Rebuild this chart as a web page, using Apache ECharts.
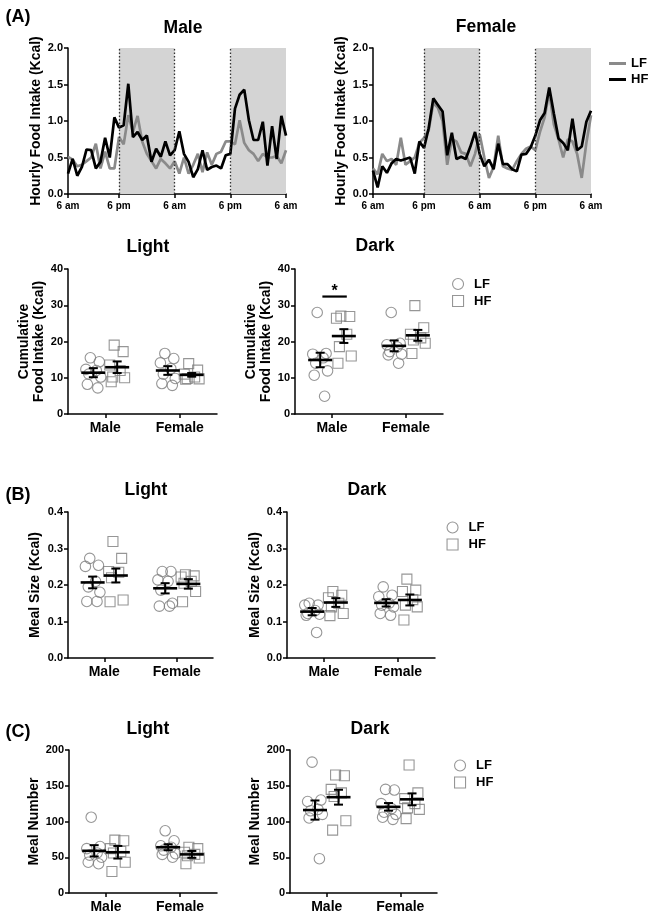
<!DOCTYPE html>
<html><head><meta charset="utf-8">
<script src="https://cdn.jsdelivr.net/npm/echarts@6/dist/echarts.min.js"></script>
<style>html,body{margin:0;padding:0;background:#fff}#c{width:649px;height:914px}</style>
</head><body><div id="c"></div>
<script>
// ---------- DATA ----------
const timeTickHours = [1, 12, 24, 36, 48];
const timeTickLabels = ['6 am', '6 pm', '6 am', '6 pm', '6 am'];
const darkPeriods = [[12, 24], [36, 48]];
const lightDarkBoundaries = [12, 24, 36];

const maleLF = [0.51,0.47,0.38,0.40,0.45,0.50,0.69,0.35,0.58,0.35,0.35,0.78,0.68,1.08,0.85,1.07,0.72,0.55,0.45,0.35,0.48,0.42,0.35,0.45,0.28,0.50,0.28,0.40,0.55,0.30,0.57,0.40,0.55,0.58,0.72,0.72,0.68,1.01,0.70,0.60,0.55,0.45,0.55,0.50,0.50,0.52,0.42,0.60];
const maleHF = [0.28,0.48,0.25,0.37,0.61,0.60,0.35,0.44,0.77,0.50,1.05,0.91,0.94,1.51,0.78,0.85,0.74,0.80,0.44,0.62,0.51,0.72,0.53,0.60,0.86,0.55,0.44,0.23,0.34,0.60,0.33,0.37,0.39,0.35,0.53,0.55,1.17,1.36,1.43,1.01,0.74,0.74,0.99,0.39,0.93,0.48,1.07,0.80];
const femaleLF = [0.35,0.27,0.55,0.45,0.48,0.40,0.77,0.40,0.45,0.50,0.70,0.77,0.87,1.25,1.18,1.00,0.40,0.75,0.72,0.57,0.55,0.38,0.55,0.82,0.50,0.22,0.37,0.80,0.38,0.35,0.33,0.45,0.55,0.62,0.65,0.60,0.85,1.05,1.40,0.95,0.75,0.50,0.75,0.72,0.55,0.22,0.70,1.08];
const femaleHF = [0.32,0.09,0.38,0.29,0.42,0.48,0.46,0.48,0.50,0.28,0.72,0.63,0.90,1.31,1.22,1.13,0.53,0.84,0.48,0.51,0.48,0.65,0.85,0.55,0.38,0.47,0.34,0.69,0.41,0.41,0.34,0.31,0.54,0.55,0.64,0.80,1.01,1.11,1.46,1.10,0.76,0.70,0.60,1.03,0.60,0.65,0.99,1.14];

const groups = ['Male', 'Female'];

// Cumulative food intake (Kcal)
const cumLightLFMale = [15.5, 14.4, 12.3, 12.0, 11.0, 10.2, 8.2, 7.2];
const cumLightHFMale = [19.0, 17.2, 13.5, 12.0, 10.2, 10.0, 8.9];
const cumLightLFFemale = [16.7, 15.3, 14.1, 12.5, 11.0, 9.8, 8.4, 7.9];
const cumLightHFFemale = [13.9, 12.1, 11.0, 10.2, 9.8, 9.7, 9.6];
const cumLightMean = [11.4, 12.9, 12.0, 10.8];   // LF-M, HF-M, LF-F, HF-F
const cumLightSem = [1.25, 1.6, 1.2, 0.5];

const cumDarkLFMale = [28.0, 16.7, 16.5, 15.5, 14.0, 11.9, 10.7, 4.9];
const cumDarkHFMale = [27.0, 26.9, 26.4, 22.0, 18.6, 16.0, 14.0];
const cumDarkLFFemale = [28.0, 19.5, 19.1, 18.5, 17.2, 16.5, 16.3, 14.0];
const cumDarkHFFemale = [29.9, 23.8, 22.0, 21.0, 20.4, 19.5, 16.7];
const cumDarkMean = [14.9, 21.5, 18.8, 21.7];
const cumDarkSem = [2.0, 1.9, 1.5, 1.5];
const cumDarkSigLevel = 32.4;

// Meal size (Kcal)
const sizeLightLFMale = [0.273, 0.254, 0.251, 0.21, 0.195, 0.18, 0.155, 0.155];
const sizeLightHFMale = [0.319, 0.273, 0.237, 0.235, 0.22, 0.159, 0.154];
const sizeLightLFFemale = [0.237, 0.237, 0.214, 0.21, 0.186, 0.15, 0.142, 0.142];
const sizeLightHFFemale = [0.228, 0.225, 0.222, 0.21, 0.205, 0.182, 0.154];
const sizeLightMean = [0.207, 0.226, 0.191, 0.203];
const sizeLightSem = [0.016, 0.019, 0.014, 0.013];

const sizeDarkLFMale = [0.15, 0.145, 0.145, 0.13, 0.122, 0.12, 0.117, 0.07];
const sizeDarkHFMale = [0.182, 0.172, 0.165, 0.15, 0.14, 0.122, 0.116];
const sizeDarkLFFemale = [0.195, 0.172, 0.168, 0.15, 0.145, 0.14, 0.122, 0.117];
const sizeDarkHFFemale = [0.216, 0.186, 0.182, 0.16, 0.145, 0.14, 0.104];
const sizeDarkMean = [0.127, 0.152, 0.151, 0.159];
const sizeDarkSem = [0.01, 0.012, 0.01, 0.015];

// Meal number
const numLightLFMale = [106, 65, 62, 56, 53, 50, 43, 41];
const numLightHFMale = [74, 73, 62, 58, 56, 43, 30];
const numLightLFFemale = [87, 73, 66, 64, 60, 55, 54, 50];
const numLightHFFemale = [64, 62, 57, 54, 52, 49, 41];
const numLightMean = [59, 57, 64, 54];
const numLightSem = [7.9, 8.8, 4.2, 4.8];

const numDarkLFMale = [183, 130, 128, 117, 115, 110, 105, 48];
const numDarkHFMale = [165, 164, 145, 140, 135, 101, 88];
const numDarkLFFemale = [145, 144, 125, 118, 113, 110, 106, 103];
const numDarkHFFemale = [179, 140, 132, 125, 119, 117, 104];
const numDarkMean = [116, 134, 120.5, 131];
const numDarkSem = [13.4, 10.4, 5.3, 8.3];

// ---------- STYLE / LAYOUT ----------
const FONT = '"Liberation Sans", Arial, sans-serif';
const GRAY = '#8a8a8a';
const PT = '#7c7c7c';
const jitter = [-0.04, 0.08, -0.1, 0.04, -0.06, 0.1, -0.08, 0.06];
const groupOffset = 0.16;

const grids = [], xAxes = [], yAxes = [], series = [], titles = [], legends = [];

function axisCommonY(gi, min, max, interval, name, nameGap, fmt) {
  return {
    gridIndex: gi, type: 'value', min, max, interval,
    axisLine: {show: true, onZero: false, lineStyle: {color: '#000', width: 1.5}},
    axisTick: {show: true, length: 4, lineStyle: {color: '#000', width: 1.5}},
    axisLabel: {color: '#000', fontFamily: FONT, fontWeight: 'bold', fontSize: 11, margin: 5, formatter: fmt},
    splitLine: {show: false},
    name, nameLocation: 'middle', nameGap,
    nameTextStyle: {color: '#000', fontFamily: FONT, fontWeight: 'bold', fontSize: 14, lineHeight: 15}
  };
}

function timePanel(gi, left, lf, hf, yName) {
  grids.push({left, top: 48, width: 218, height: 146});
  xAxes.push({
    gridIndex: gi, type: 'value', min: 1, max: 48,
    axisLine: {show: true, onZero: false, lineStyle: {color: '#000', width: 1.5}},
    axisTick: {show: true, length: 4, customValues: timeTickHours, lineStyle: {color: '#000', width: 1.5}},
    axisLabel: {customValues: timeTickHours, color: '#000', fontFamily: FONT, fontWeight: 'bold', fontSize: 10, margin: 7,
      formatter: v => timeTickLabels[timeTickHours.indexOf(v)]},
    splitLine: {show: false}
  });
  yAxes.push(axisCommonY(gi, 0, 2, 0.5, yName, 23, v => v.toFixed(1)));
  series.push({
    type: 'line', name: 'LF', xAxisIndex: gi, yAxisIndex: gi, symbol: 'none', z: 3,
    data: lf.map((v, i) => [i + 1, v]),
    lineStyle: {color: GRAY, width: 2.7}, itemStyle: {color: GRAY},
    markArea: {silent: true, itemStyle: {color: '#d4d4d4'},
      data: darkPeriods.map(p => [{xAxis: p[0]}, {xAxis: p[1]}])},
    markLine: {silent: true, symbol: 'none', label: {show: false},
      lineStyle: {type: [1.5, 2], color: '#333', width: 1.3},
      data: lightDarkBoundaries.map(h => ({xAxis: h}))}
  });
  series.push({
    type: 'line', name: 'HF', xAxisIndex: gi, yAxisIndex: gi, symbol: 'none', z: 4,
    data: hf.map((v, i) => [i + 1, v]),
    lineStyle: {color: '#000', width: 2.7}, itemStyle: {color: '#000'}
  });
}

function errBar(params, api) {
  const x = api.value(0), m = api.value(1), s = api.value(2);
  const c = api.coord([x, m]);
  const t = api.coord([x, m + s]);
  const b = api.coord([x, m - s]);
  const st = {stroke: '#000', lineWidth: 2};
  return {type: 'group', children: [
    {type: 'line', shape: {x1: c[0] - 12, y1: c[1], x2: c[0] + 12, y2: c[1]}, style: {stroke: '#000', lineWidth: 2.6}},
    {type: 'line', shape: {x1: c[0], y1: t[1], x2: c[0], y2: b[1]}, style: st},
    {type: 'line', shape: {x1: c[0] - 4.5, y1: t[1], x2: c[0] + 4.5, y2: t[1]}, style: st},
    {type: 'line', shape: {x1: c[0] - 4.5, y1: b[1], x2: c[0] + 4.5, y2: b[1]}, style: st}
  ]};
}

function sigBar(params, api) {
  const a = api.coord([api.value(0), api.value(2)]);
  const b = api.coord([api.value(1), api.value(2)]);
  return {type: 'group', children: [
    {type: 'line', shape: {x1: a[0], y1: a[1], x2: b[0], y2: b[1]}, style: {stroke: '#000', lineWidth: 2.2}},
    {type: 'text', x: (a[0] + b[0]) / 2, y: a[1] + 3, style: {text: '*', font: 'bold 16px ' + FONT, textAlign: 'center', textVerticalAlign: 'bottom', fill: '#000'}}
  ]};
}

function pts(vals, center) {
  return vals.map((v, i) => [center + jitter[i % jitter.length], v]);
}

function scatterPanel(gi, box, yCfg, d, mean, sem) {
  grids.push(box);
  xAxes.push({
    gridIndex: gi, type: 'value', min: -0.5, max: 1.5,
    axisLine: {show: true, onZero: false, lineStyle: {color: '#000', width: 1.5}},
    axisTick: {show: true, length: 4, customValues: [0, 1], lineStyle: {color: '#000', width: 1.5}},
    axisLabel: {customValues: [0, 1], color: '#000', fontFamily: FONT, fontWeight: 'bold', fontSize: 14, margin: 7,
      formatter: v => groups[Math.round(v)]},
    splitLine: {show: false}
  });
  yAxes.push(axisCommonY(gi, yCfg.min, yCfg.max, yCfg.interval, yCfg.name, yCfg.gap, yCfg.fmt));
  series.push({
    type: 'scatter', name: 'LF points', xAxisIndex: gi, yAxisIndex: gi, symbol: 'circle', symbolSize: 10.5, z: 3,
    itemStyle: {color: 'rgba(255,255,255,0)', borderColor: PT, borderWidth: 1.1},
    data: pts(d[0], -groupOffset).concat(pts(d[2], 1 - groupOffset))
  });
  series.push({
    type: 'scatter', name: 'HF points', xAxisIndex: gi, yAxisIndex: gi, symbol: 'rect', symbolSize: 10, z: 3,
    itemStyle: {color: 'rgba(255,255,255,0)', borderColor: PT, borderWidth: 1.1},
    data: pts(d[1], groupOffset).concat(pts(d[3], 1 + groupOffset))
  });
  series.push({
    type: 'custom', name: 'mean ± SEM', xAxisIndex: gi, yAxisIndex: gi, z: 5, renderItem: errBar,
    encode: {x: 0, y: 1},
    data: [[-groupOffset, mean[0], sem[0]], [groupOffset, mean[1], sem[1]],
           [1 - groupOffset, mean[2], sem[2]], [1 + groupOffset, mean[3], sem[3]]]
  });
}

function title(text, x, top, size) {
  titles.push({text, left: x, top, textAlign: 'center',
    textStyle: {color: '#000', fontFamily: FONT, fontWeight: 'bold', fontSize: size || 17.5}});
}

function ptLegend(left, top) {
  legends.push({
    orient: 'vertical', left, top, itemWidth: 22, itemHeight: 11, itemGap: 4, selectedMode: false,
    data: [{name: 'LF points', icon: 'circle'}, {name: 'HF points', icon: 'path://M0,0L10,0L10,10L0,10Z'}],
    symbolKeepAspect: true,
    itemStyle: {color: 'rgba(255,255,255,0)', borderColor: PT, borderWidth: 1.1},
    formatter: n => n.split(' ')[0],
    textStyle: {color: '#000', fontFamily: FONT, fontWeight: 'bold', fontSize: 13}
  });
}

// ---------- PANELS ----------
timePanel(0, 68, maleLF, maleHF, 'Hourly Food Intake (Kcal)');
timePanel(1, 373, femaleLF, femaleHF, 'Hourly Food Intake (Kcal)');

const cumName = 'Cumulative\nFood Intake (Kcal)';
scatterPanel(2, {left: 68, top: 269, width: 149, height: 145},
  {min: 0, max: 40, interval: 10, name: cumName, gap: 21},
  [cumLightLFMale, cumLightHFMale, cumLightLFFemale, cumLightHFFemale], cumLightMean, cumLightSem);
scatterPanel(3, {left: 295, top: 269, width: 148, height: 145},
  {min: 0, max: 40, interval: 10, name: cumName, gap: 21},
  [cumDarkLFMale, cumDarkHFMale, cumDarkLFFemale, cumDarkHFFemale], cumDarkMean, cumDarkSem);
series.push({type: 'custom', name: 'significance', xAxisIndex: 3, yAxisIndex: 3, z: 6, renderItem: sigBar,
  encode: {x: [0, 1], y: 2}, data: [[-0.13, 0.2, cumDarkSigLevel]]});

const f1 = v => v.toFixed(1);
scatterPanel(4, {left: 68, top: 512, width: 145, height: 146},
  {min: 0, max: 0.4, interval: 0.1, name: 'Meal Size (Kcal)', gap: 25, fmt: f1},
  [sizeLightLFMale, sizeLightHFMale, sizeLightLFFemale, sizeLightHFFemale], sizeLightMean, sizeLightSem);
scatterPanel(5, {left: 287, top: 512, width: 148, height: 146},
  {min: 0, max: 0.4, interval: 0.1, name: 'Meal Size (Kcal)', gap: 24, fmt: f1},
  [sizeDarkLFMale, sizeDarkHFMale, sizeDarkLFFemale, sizeDarkHFFemale], sizeDarkMean, sizeDarkSem);

scatterPanel(6, {left: 69, top: 750, width: 148, height: 144},
  {min: 0, max: 200, interval: 50, name: 'Meal Number', gap: 26},
  [numLightLFMale, numLightHFMale, numLightLFFemale, numLightHFFemale], numLightMean, numLightSem);
scatterPanel(7, {left: 290, top: 750, width: 147, height: 144},
  {min: 0, max: 200, interval: 50, name: 'Meal Number', gap: 25},
  [numDarkLFMale, numDarkHFMale, numDarkLFFemale, numDarkHFFemale], numDarkMean, numDarkSem);

// ---------- TITLES ----------
title('(A)', 13, 3, 18);
title('(B)', 13, 481, 18);
title('(C)', 13, 718, 18);
title('Male', 178, 14);
title('Female', 481, 13);
title('Light', 143, 233);
title('Dark', 370, 232);
title('Light', 141, 476);
title('Dark', 362, 476);
title('Light', 143, 715);
title('Dark', 365, 715);

// ---------- LEGENDS ----------
legends.push({
  orient: 'vertical', left: 604, top: 52, itemWidth: 17, itemHeight: 3, itemGap: 3, selectedMode: false,
  data: [{name: 'LF', icon: 'rect', itemStyle: {color: GRAY}}, {name: 'HF', icon: 'rect', itemStyle: {color: '#000'}}],
  textStyle: {color: '#000', fontFamily: FONT, fontWeight: 'bold', fontSize: 13}
});
ptLegend(447, 272.5);
ptLegend(441.5, 516);
ptLegend(449, 754);

const chart = echarts.init(document.getElementById('c'), null, {renderer: 'canvas'});
chart.setOption({
  animation: false,
  backgroundColor: '#fff',
  title: titles,
  legend: legends,
  grid: grids,
  xAxis: xAxes,
  yAxis: yAxes,
  series
});
</script>
</body></html>
